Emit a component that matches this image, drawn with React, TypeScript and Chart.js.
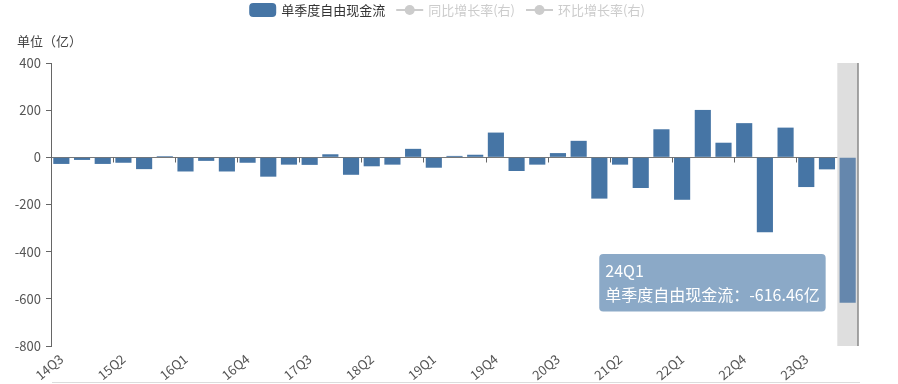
import React, { useEffect, useRef } from "react";
import { Chart, registerables, Tooltip } from "chart.js";

Chart.register(...registerables);

const FONT = "'Noto Sans CJK SC', 'Noto Sans', sans-serif";

const categories = [
  "14Q3", "14Q4",
  "15Q1", "15Q2", "15Q3", "15Q4",
  "16Q1", "16Q2", "16Q3", "16Q4",
  "17Q1", "17Q2", "17Q3", "17Q4",
  "18Q1", "18Q2", "18Q3", "18Q4",
  "19Q1", "19Q2", "19Q3", "19Q4",
  "20Q1", "20Q2", "20Q3", "20Q4",
  "21Q1", "21Q2", "21Q3", "21Q4",
  "22Q1", "22Q2", "22Q3", "22Q4",
  "23Q1", "23Q2", "23Q3", "23Q4",
  "24Q1",
];

const freeCashFlow = [
  -28, -11,
  -28, -23, -50, 5,
  -60, -15, -60, -23,
  -82, -31, -32, 13,
  -74, -38, -31, 36,
  -44, 6, 11, 105,
  -58, -31, 18, 70,
  -175, -31, -130, 119,
  -180, 201, 62, 145,
  -318, 126, -126, -51,
  -616.46,
];

const yTicks = [-800, -600, -400, -200, 0, 200, 400];

const seriesNames = ["单季度自由现金流", "同比增长率(右)", "环比增长率(右)"];
const unitLabel = "单位（亿）";
const valueSuffix = "亿";
const highlightIndex = categories.length - 1;
const labelEvery = 3;

const BAR = "#4675a5";
const BAR_HOVER = "#6587ad";

(Tooltip.positioners as any).leftOfBar = function (items: any[]) {
  if (!items.length) return false;
  const el = items[0].element;
  return { x: el.x - 22, y: el.y - 20, xAlign: "right", yAlign: "center" };
};

const decor = {
  id: "decor",
  beforeDatasetsDraw(chart: any) {
    const { ctx, chartArea, scales } = chart;
    const xs = scales.x;
    const band = (chartArea.right - chartArea.left) / categories.length;
    const cx = xs.getPixelForValue(highlightIndex);
    ctx.save();
    ctx.fillStyle = "#dedede";
    ctx.fillRect(cx - band / 2, chartArea.top, band, chartArea.bottom - chartArea.top);
    ctx.restore();
  },
  afterDatasetsDraw(chart: any) {
    const { ctx, chartArea, scales } = chart;
    const xs = scales.x;
    const ys = scales.y;
    const band = (chartArea.right - chartArea.left) / categories.length;
    const y0 = Math.round(ys.getPixelForValue(0)) + 0.5;
    ctx.save();
    ctx.strokeStyle = "#666";
    ctx.lineWidth = 1;
    for (let i = 0; i < categories.length; i += labelEvery) {
      const x = Math.round(xs.getPixelForValue(i) - band / 2) + 0.5;
      ctx.beginPath();
      ctx.moveTo(x, y0);
      ctx.lineTo(x, y0 + 5);
      ctx.stroke();
    }
    // right axis line
    ctx.strokeStyle = "#888";
    ctx.lineWidth = 1.5;
    ctx.beginPath();
    ctx.moveTo(chartArea.right, chartArea.top);
    ctx.lineTo(chartArea.right, chartArea.bottom);
    ctx.stroke();
    ctx.restore();
  },
  afterDraw(chart: any) {
    const { ctx, chartArea, width, height } = chart;
    ctx.save();
    // bottom slider border line
    ctx.strokeStyle = "#dcdcdc";
    ctx.lineWidth = 1;
    ctx.beginPath();
    ctx.moveTo(chartArea.left + 1, height - 1.5);
    ctx.lineTo(chartArea.right + 2, height - 1.5);
    ctx.stroke();

    // unit label
    ctx.font = `13px ${FONT}`;
    ctx.fillStyle = "#444";
    ctx.textAlign = "left";
    ctx.textBaseline = "middle";
    ctx.fillText(unitLabel, 17, 41);

    // legend
    ctx.font = `13px ${FONT}`;
    const iconW = 27;
    const iconGap = 5;
    const itemGap = 11;
    const widths = seriesNames.map((n) => ctx.measureText(n).width);
    const total = widths.reduce((a, b) => a + b, 0) + seriesNames.length * (iconW + iconGap) + (seriesNames.length - 1) * itemGap;
    let x = width / 2 - 2 - total / 2;
    const cy = 10;
    seriesNames.forEach((name, i) => {
      if (i === 0) {
        ctx.fillStyle = BAR;
        ctx.beginPath();
        (ctx as any).roundRect(x, cy - 7, iconW, 14, 4);
        ctx.fill();
        ctx.fillStyle = "#333";
      } else {
        ctx.strokeStyle = "#ccc";
        ctx.lineWidth = 2;
        ctx.beginPath();
        ctx.moveTo(x, cy);
        ctx.lineTo(x + iconW, cy);
        ctx.stroke();
        ctx.fillStyle = "#ccc";
        ctx.beginPath();
        ctx.arc(x + iconW / 2, cy, 5, 0, Math.PI * 2);
        ctx.fill();
        ctx.fillStyle = "#ccc";
      }
      x += iconW + iconGap;
      ctx.textAlign = "left";
      ctx.textBaseline = "middle";
      ctx.fillText(name, x, cy);
      x += widths[i] + itemGap;
    });
    ctx.restore();
  },
};

export default function App() {
  const ref = useRef<HTMLCanvasElement | null>(null);

  useEffect(() => {
    const canvas = ref.current;
    if (!canvas) return;
    const colorFor = (c: any) => (c.dataIndex === highlightIndex ? BAR_HOVER : BAR);
    const chart = new Chart(canvas, {
      type: "bar",
      data: {
        labels: categories,
        datasets: [
          {
            label: seriesNames[0],
            data: freeCashFlow,
            backgroundColor: colorFor,
            hoverBackgroundColor: colorFor,
            borderWidth: 0,
            barPercentage: 0.78,
            categoryPercentage: 1,
          },
        ],
      },
      options: {
        responsive: false,
        animation: false,
        events: [],
        layout: { padding: { top: 63, right: 40, left: 0, bottom: 0 } },
        plugins: {
          legend: { display: false },
          title: { display: false },
          tooltip: {
            enabled: true,
            position: "leftOfBar" as any,
            xAlign: "right",
            yAlign: "center",
            backgroundColor: "#8ba9c7",
            titleColor: "#fff",
            bodyColor: "#fff",
            titleFont: { family: FONT, size: 16, weight: "normal" },
            bodyFont: { family: FONT, size: 16, weight: "normal" },
            padding: { left: 6, right: 6, top: 7, bottom: 7 },
            titleMarginBottom: 5,
            cornerRadius: 4,
            caretSize: 0,
            caretPadding: 0,
            displayColors: false,
            callbacks: {
              title: (items: any[]) => (items.length ? items[0].label : ""),
              label: (item: any) => `${seriesNames[0]}：${item.raw}${valueSuffix}`,
            },
          },
        },
        scales: {
          x: {
            type: "category",
            grid: { display: false, drawTicks: false },
            border: { display: false },
            ticks: {
              autoSkip: false,
              minRotation: 40,
              maxRotation: 40,
              padding: 5,
              color: "#555",
              font: { family: FONT, size: 13 },
              callback: (_v: any, i: number) => (i % labelEvery === 0 ? categories[i] : ""),
            },
            afterFit: (s: any) => {
              s.height = 38;
            },
          },
          y: {
            min: yTicks[0],
            max: yTicks[yTicks.length - 1],
            afterBuildTicks: (s: any) => {
              s.ticks = yTicks.map((v) => ({ value: v }));
            },
            ticks: {
              color: "#555",
              padding: 5,
              font: { family: FONT, size: 13 },
            },
            grid: {
              color: (c: any) => (c.tick && c.tick.value === 0 ? "#777" : "rgba(0,0,0,0)"),
              tickColor: "#666",
              tickLength: 5,
              drawTicks: true,
            },
            border: { color: "#666", width: 1 },
            afterFit: (s: any) => {
              s.width = 51;
            },
          },
        },
      },
      plugins: [decor],
    });

    const active = [{ datasetIndex: 0, index: highlightIndex }];
    chart.tooltip?.setActiveElements(active, { x: 0, y: 0 });
    chart.update();

    return () => chart.destroy();
  }, []);

  return (
    <div style={{ position: "absolute", left: 0, top: 0, width: 898, height: 384 }}>
      <canvas ref={ref} width={898} height={384} style={{ display: "block" }} />
    </div>
  );
}
